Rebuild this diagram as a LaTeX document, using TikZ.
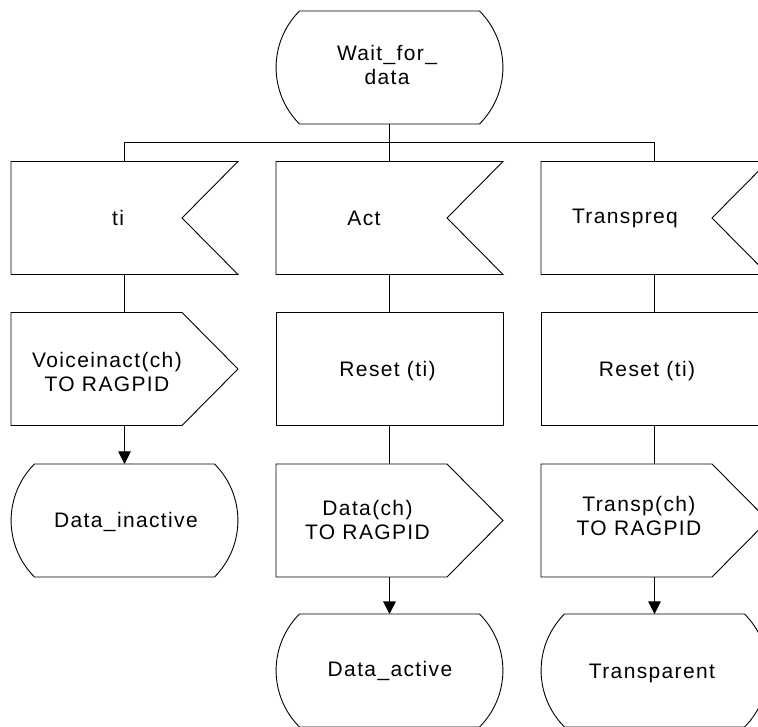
\documentclass[tikz,border=0pt]{standalone}
\usepackage{fontspec}
\setmainfont{Liberation Sans}[LetterSpace=6.5]
\usetikzlibrary{arrows.meta}
\newcommand\sdlinput[1]{\draw (#1.north west) -- (#1.north east) -- ([xshift=-56pt]#1.east) -- (#1.south east) -- (#1.south west) -- cycle;}
\newcommand\sdloutput[1]{\draw (#1.north west) -- ([xshift=-56pt]#1.north east) -- (#1.east) -- ([xshift=-56pt]#1.south east) -- (#1.south west) -- cycle;}
\newcommand\sdlstate[1]{\draw (#1.north west) -- (#1.north east) arc[start angle=45,end angle=-45,radius=79.9pt] -- (#1.south west) arc[start angle=225,end angle=135,radius=79.9pt] -- cycle;}
\begin{document}
\begin{tikzpicture}[x=1pt,y=1pt,line width=0.9pt,
  every node/.style={font=\fontsize{21}{24}\selectfont},
  every label/.style={align=center,inner sep=0pt},
  box/.style={minimum width=227pt,minimum height=113pt,inner sep=0pt,outer sep=0pt},
  statebox/.style={minimum width=180pt,minimum height=113pt,inner sep=0pt,outer sep=0pt},
  arr/.style={-{Triangle[width=12.5pt,length=12.5pt]}},
  thickline/.style={line width=1.6pt}]
\useasboundingbox (0,0) rectangle (758,727);
\clip (0,0) rectangle (758,727);

% nodes
\node[statebox,label={[xshift=-2.5pt,yshift=2pt]center:Wait\_for\_\\data}] (W) at (389.5,659.5) {};

\node[box,label={[xshift=-6.5pt]center:ti}] (i1) at (124.5,509) {};
\node[box,label={[xshift=-25.5pt]center:Act}] (i2) at (389.5,509) {};
\node[box,label={[xshift=-29.5pt]center:Transpreq}] (i3) at (654.5,509) {};

\node[box,label={[xshift=-17.5pt,yshift=-3pt]center:Voiceinact(ch)\\TO RAGPID}] (o1) at (124.5,358) {};
\node[box,label={[xshift=-2pt,yshift=-2pt]center:Reset (ti)}] (t2) at (389.5,358) {};
\node[box,label={[xshift=-7.5pt,yshift=-2pt]center:Reset (ti)}] (t3) at (654.5,358) {};

\node[statebox,label={[xshift=1.5pt,yshift=-1.5pt]center:Data\_inactive}] (s1) at (124.5,206.5) {};
\node[box,label={[xshift=-22pt]center:Data(ch)\\TO RAGPID}] (o2) at (389.5,206.5) {};
\node[box,label={[xshift=-15.5pt,yshift=4.5pt]center:Transp(ch)\\TO RAGPID}] (o3) at (654.5,206.5) {};

\node[statebox,label={[xshift=0.5pt]center:Data\_active}] (s2) at (389.5,56.5) {};
\node[statebox,label={[xshift=-2.5pt,yshift=-2.5pt]center:Transparent}] (s3) at (654.5,56.5) {};

% shapes
\sdlstate{W}
\sdlinput{i1}
\sdlinput{i2}
\sdlinput{i3}
\sdloutput{o1}
\draw (t2.north west) rectangle (t2.south east);
\draw (t3.north west) rectangle (t3.south east);
\sdlstate{s1}
\sdloutput{o2}
\sdloutput{o3}
\sdlstate{s2}
\sdlstate{s3}

% connectors
\draw[thickline] (W.south) -- (i2.north);
\draw (i1.north) -- ++(0,19pt) -| (i3.north);
\draw (i1.south) -- (o1.north);
\draw[arr] (o1.south) -- (s1.north);
\draw[thickline] (i2.south) -- (t2.north);
\draw[thickline] (t2.south) -- (o2.north);
\draw[thickline,arr] (o2.south) -- (s2.north);
\draw (i3.south) -- (t3.north);
\draw (t3.south) -- (o3.north);
\draw[arr] (o3.south) -- (s3.north);
\end{tikzpicture}
\end{document}
